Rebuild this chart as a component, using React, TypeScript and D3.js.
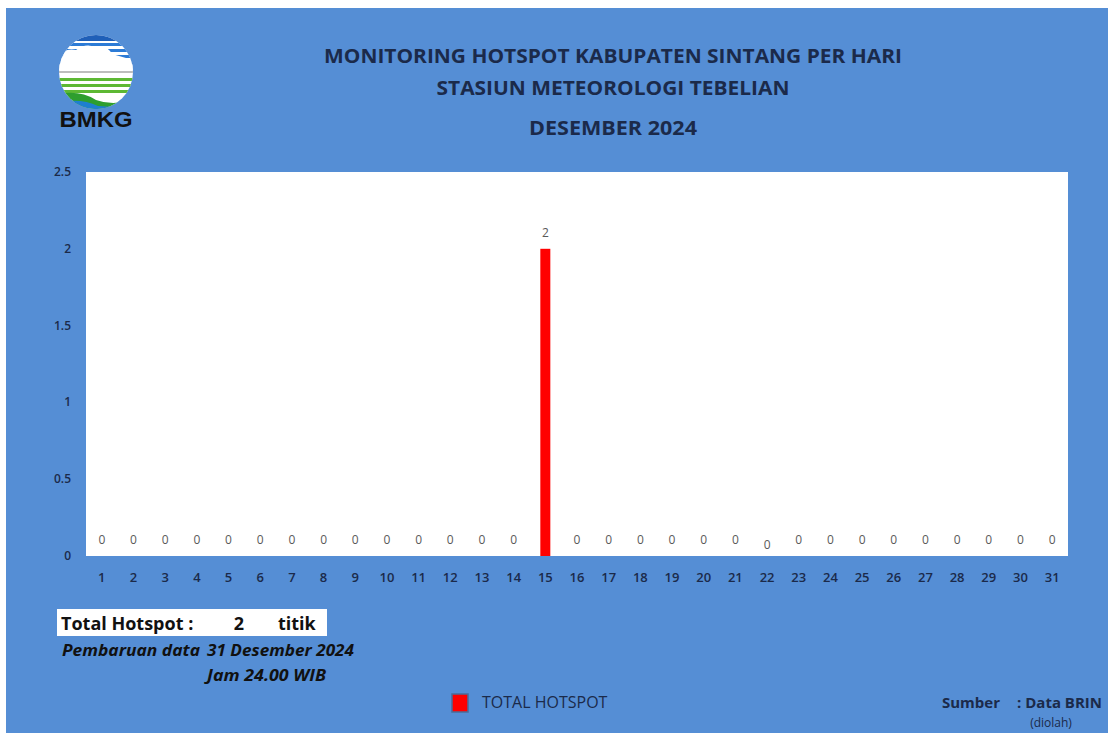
import React from "react";
import * as d3 from "d3";

// daily hotspot counts, Desember 2024
const days = d3.range(1, 32).map((d) => String(d));
const hotspots = [0, 0, 0, 0, 0, 0, 0, 0, 0, 0, 0, 0, 0, 0, 2, 0, 0, 0, 0, 0, 0, 0, 0, 0, 0, 0, 0, 0, 0, 0, 0];
const yTicks = [0, 0.5, 1, 1.5, 2, 2.5];
const titleLines = ["MONITORING HOTSPOT KABUPATEN SINTANG PER HARI", "STASIUN METEOROLOGI TEBELIAN", "DESEMBER 2024"];
const titleWidths = [578, 353, 168];
const titleY = [63, 95, 135];
const seriesName = "TOTAL HOTSPOT";

const W = 1108;
const H = 733;
const BG = "#558ED5";
const NAVY = "#1B2A4A";
const FONT = "'Open Sans', 'DejaVu Sans', sans-serif";

function Logo() {
    // rough BMKG logo: striped circle with cloud
    const cx = 96, cy = 72, r = 37;
    const blue = [43, 49, 55, 61];
    const green = [78, 84, 90];
    return (
        <g>
            <defs>
                <clipPath id="logoClip">
                    <circle cx={cx} cy={cy} r={r} />
                </clipPath>
            </defs>
            <g clipPath="url(#logoClip)">
                <rect x={cx - r} y={cy - r} width={2 * r} height={2 * r} fill="#fff" />
                <rect x={cx - r} y={cy - r} width={2 * r} height={6} fill="#1F5FB8" />
                {blue.map((y, i) => (
                    <rect key={"b" + i} x={cx - r} y={y} width={2 * r} height={3} fill="#2C7BD6" />
                ))}
                <path d={`M${cx - r},70 L${cx - r},56 Q64,48 76,50 Q86,42 98,48 Q108,46 112,54 L126,58 L${cx + r},62 L${cx + r},70 Z`} fill="#fff" />
                <rect x={cx - r} y={71} width={2 * r} height={2} fill="#bdbdbd" />
                {green.map((y, i) => (
                    <rect key={"g" + i} x={cx - r} y={y} width={2 * r} height={3} fill="#5DB833" />
                ))}
                <path d={`M${cx - r},94 Q80,90 96,100 Q112,106 ${cx + r},100 L${cx + r},${cy + r} L${cx - r},${cy + r} Z`} fill="#2E9E2E" />
                <path d={`M${cx - r},102 Q82,98 98,106 L${cx + r},108 L${cx + r},${cy + r} L${cx - r},${cy + r} Z`} fill="#1E7FD0" />
            </g>
            <text x={cx} y={127} textAnchor="middle" fontFamily="'Liberation Sans', Arial, sans-serif" fontWeight="bold" fontSize={22} fill="#111" textLength={73} lengthAdjust="spacingAndGlyphs">
                BMKG
            </text>
        </g>
    );
}

export default function App() {
    const margin = { top: 172, right: 40, bottom: 177, left: 86 };
    const plotW = W - margin.left - margin.right;
    const plotH = H - margin.top - margin.bottom;

    const x = d3.scaleBand().domain(days).range([margin.left, margin.left + plotW]);
    const y = d3.scaleLinear().domain([0, 2.5]).range([margin.top + plotH, margin.top]);
    const barW = 10;

    return (
        <svg width={W} height={H} style={{ position: "absolute", left: 0, top: 0 }}>
            <rect x={0} y={0} width={W} height={H} fill="#fff" />
            <rect x={6} y={8} width={W - 6} height={H - 8} fill={BG} />

            <Logo />

            {titleLines.map((t, i) => (
                <text key={t} x={613} y={titleY[i]} textAnchor="middle" fontFamily={FONT} fontWeight="bold" fontSize={20} fill={NAVY} textLength={titleWidths[i]} lengthAdjust="spacingAndGlyphs">
                    {t}
                </text>
            ))}

            <rect x={margin.left} y={margin.top} width={plotW} height={plotH} fill="#fff" />

            {yTicks.map((t) => (
                <text key={t} x={71} y={y(t) + 4} textAnchor="end" fontFamily={FONT} fontWeight="600" fontSize={12} fill={NAVY}>
                    {t}
                </text>
            ))}

            {days.map((d) => (
                <text key={d} x={(x(d) ?? 0) + x.bandwidth() / 2} y={582} textAnchor="middle" fontFamily={FONT} fontWeight="600" fontSize={13} fill={NAVY}>
                    {d}
                </text>
            ))}

            {days.map((d, i) => {
                const v = hotspots[i];
                const cx = (x(d) ?? 0) + x.bandwidth() / 2;
                return (
                    <g key={"bar" + d}>
                        {v > 0 && <rect x={cx - barW / 2} y={y(v)} width={barW} height={y(0) - y(v)} fill="#FF0000" />}
                        <text x={cx} y={y(v) - 12 + (d === "22" ? 5 : 0)} textAnchor="middle" fontFamily={FONT} fontSize={12} fill="#595959">
                            {v}
                        </text>
                    </g>
                );
            })}

            {/* total box */}
            <rect x={57} y={609} width={270} height={27} fill="#fff" />
            <g fontFamily={FONT} fontWeight="bold" fontSize={18} fill="#111">
                <text x={61} y={630}>Total Hotspot :</text>
                <text x={239} y={630} textAnchor="middle">{d3.sum(hotspots)}</text>
                <text x={278} y={630}>titik</text>
            </g>
            <g fontFamily={FONT} fontWeight="bold" fontStyle="italic" fontSize={15.5} fill="#111">
                <text x={62} y={656} textLength={138} lengthAdjust="spacingAndGlyphs">Pembaruan data</text>
                <text x={207} y={656} textLength={147} lengthAdjust="spacingAndGlyphs">31 Desember 2024</text>
                <text x={207} y={681} textLength={119} lengthAdjust="spacingAndGlyphs">Jam 24.00 WIB</text>
            </g>

            {/* legend */}
            <rect x={452} y={694} width={16} height={18} fill="#FF0000" stroke="#4A6C99" strokeWidth={1.5} />
            <text x={482} y={708} fontFamily={FONT} fontSize={16} fill={NAVY}>
                {seriesName}
            </text>

            <g fontFamily={FONT} fontWeight="bold" fontSize={15} fill={NAVY}>
                <text x={942} y={708}>Sumber</text>
                <text x={1102} y={708} textAnchor="end">: Data BRIN</text>
            </g>
            <text x={1051} y={727} textAnchor="middle" fontFamily={FONT} fontSize={12} fill={NAVY}>
                (diolah)
            </text>
        </svg>
    );
}
